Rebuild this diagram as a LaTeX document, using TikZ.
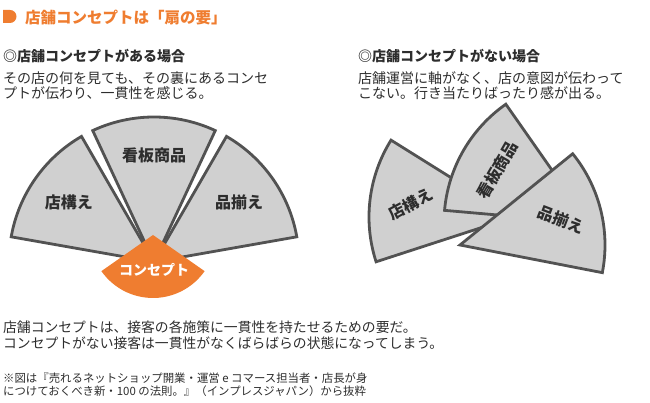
\documentclass[tikz,border=0pt]{standalone}
\usepackage{fontspec}
\setmainfont{Noto Sans CJK JP}
\definecolor{kaname}{RGB}{239,125,48}
\definecolor{bladegray}{RGB}{208,208,208}
\definecolor{rim}{RGB}{82,82,82}
\definecolor{ink}{RGB}{45,45,45}

\begin{document}
\begin{tikzpicture}[
  x=1pt, y=1pt,
  font=\fontsize{14}{15.5}\selectfont, text=ink,
  blade/.style={draw=rim, fill=bladegray, line width=2.8pt},
  bladetxt/.style={font=\fontsize{16}{18}\selectfont\bfseries, inner sep=0pt},
  para/.style={anchor=west, align=left, inner sep=0pt},
  head/.style={para, font=\fontsize{14}{16}\selectfont\bfseries}
]
\useasboundingbox (0,0) rectangle (650,403);

% title
\fill[kaname] (3,380) -- (3,393) -- (10,393) arc[start angle=90, end angle=-90, radius=6.5] -- cycle;
\node[para, text=kaname, font=\fontsize{15.5}{17}\selectfont\bfseries] (title) at (25,385) {店舗コンセプトは「扇の要」};

% with concept
\node[head] (headL) at (3,346.5) {◎店舗コンセプトがある場合};
\node[para] (bodyL) at (3,317.25) {その店の何を見ても、その裏にあるコンセ\\プトが伝わり、一貫性を感じる。};

\coordinate (fanL) at (154,141);
\draw[blade] (fanL) -- ++(120:145) arc[start angle=120, end angle=170, radius=145] -- cycle;
\draw[blade] (fanL) -- ++(65:145) arc[start angle=65, end angle=115, radius=145] -- cycle;
\draw[blade] (fanL) -- ++(10:145) arc[start angle=10, end angle=60, radius=145] -- cycle;
\node[bladetxt] (miseL) at ([shift={(145:104)}]fanL) {店構え};
\node[bladetxt] (kanbanL) at ([shift={(90:107)}]fanL) {看板商品};
\node[bladetxt] (shinaL) at ([shift={(35:104)}]fanL) {品揃え};

\fill[kaname] (153,168) -- ++(215:63) arc[start angle=215, end angle=325, radius=63] -- cycle;
\node[bladetxt, text=white, font=\fontsize{14}{16}\selectfont\bfseries] (concept) at (154,133) {コンセプト};

% without concept
\node[head] (headR) at (358,346.5) {◎店舗コンセプトがない場合};
\node[para] (bodyR) at (358,317.25) {店舗運営に軸がなく、店の意図が伝わって\\こない。行き当たりばったり感が出る。};

\coordinate (fanA) at (514,186);
\coordinate (fanB) at (589,180);
\coordinate (fanC) at (460,158);
\draw[blade] (fanA) -- ++(148:145) arc[start angle=148, end angle=198, radius=145] -- cycle;
\node[bladetxt, rotate=28] (miseR) at ([shift={(173:104)}]fanA) {店構え};
\draw[blade] (fanB) -- ++(125:145) arc[start angle=125, end angle=175, radius=145] -- cycle;
\node[bladetxt, rotate=60] (kanbanR) at ([shift={(150:106)}]fanB) {看板商品};
\draw[blade] (fanC) -- ++(-11:145) arc[start angle=-11, end angle=39, radius=145] -- cycle;
\node[bladetxt, rotate=-21] (shinaR) at ([shift={(14:104)}]fanC) {品揃え};

% summary
\node[para, font=\fontsize{13.8}{16}\selectfont] (summary) at (3,68) {店舗コンセプトは、接客の各施策に一貫性を持たせるための要だ。\\コンセプトがない接客は一貫性がなくばらばらの状態になってしまう。};
\node[para, font=\fontsize{11.4}{12.5}\selectfont] (source) at (3,18.5) {※図は『売れるネットショップ開業・運営 e コマース担当者・店長が身\\につけておくべき新・100 の法則。』（インプレスジャパン）から抜粋};
\end{tikzpicture}
\end{document}
